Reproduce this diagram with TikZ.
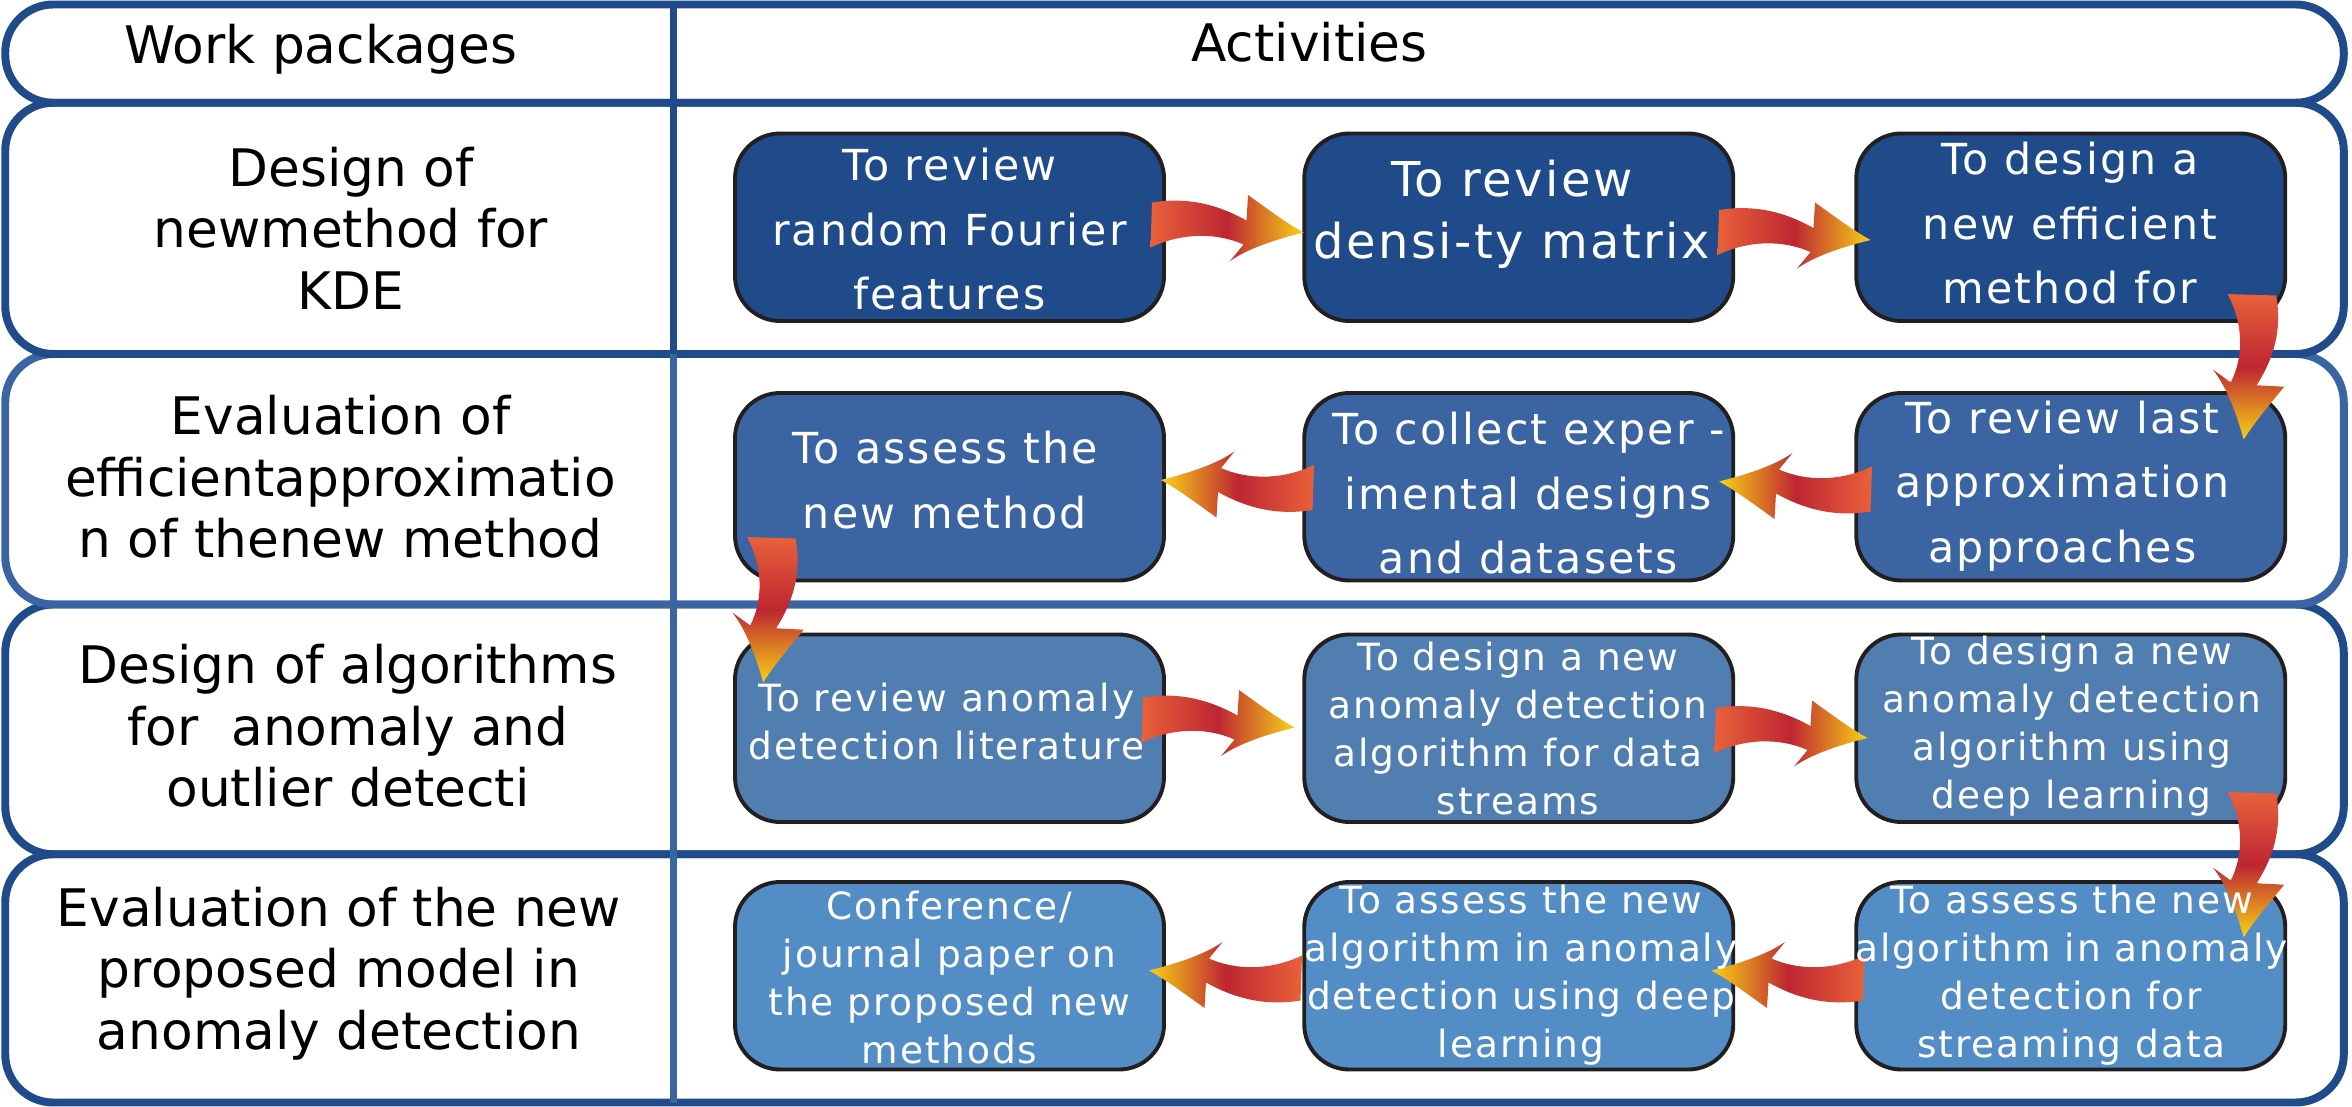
\documentclass[tikz,border=0pt]{standalone}
\usepackage{fontspec}
\setmainfont{DejaVu Sans}
\newfontfamily\boxfont[LetterSpace=5]{DejaVu Sans}
\definecolor{wpdark}{RGB}{31,75,139}
\definecolor{wplight}{RGB}{59,100,163}
\definecolor{wpthree}{RGB}{80,126,176}
\definecolor{wpfour}{RGB}{82,141,198}
\definecolor{wpedge}{RGB}{35,31,32}
\definecolor{arO}{RGB}{233,97,58}
\definecolor{arR}{RGB}{190,38,50}
\definecolor{arY}{RGB}{248,210,22}
\newcommand\wpR[2]{\shade[shift={(#1,#2)}, left color=arO, right color=arY, middle color=arR]
 (0,0) .. controls (25,-4) and (45,2) .. (63,12) -- (64,-5)
 .. controls (78,5) and (90,14) .. (101,20)
 .. controls (85,24) and (65,30) .. (52,39) -- (61,28)
 .. controls (43,20) and (20,20) .. (-1,30) -- cycle;}
\newcommand\wpL[2]{\shade[shift={(#1,#2)}, left color=arY, right color=arO, middle color=arR]
 (0,30) .. controls (-25,34) and (-45,28) .. (-63,18) -- (-64,35)
 .. controls (-78,25) and (-90,16) .. (-101,10)
 .. controls (-85,6) and (-65,0) .. (-52,-9) -- (-61,2)
 .. controls (-43,10) and (-20,10) .. (1,0) -- cycle;}
\newcommand\wpD[2]{\shade[shift={(#1,#2)}, xscale=1.08, yscale=0.95, top color=arO, bottom color=arY, middle color=arR]
 (30,0) .. controls (34,25) and (28,45) .. (18,63) -- (35,64)
 .. controls (25,78) and (16,90) .. (10,101)
 .. controls (6,85) and (0,65) .. (-9,52) -- (2,61)
 .. controls (10,43) and (10,20) .. (0,-1) -- cycle;}
\begin{document}
\begin{tikzpicture}[x=1pt,y=-1pt,
  rowframe/.style={draw=#1, line width=5.3pt, rounded corners=32pt, minimum width=1559pt, inner sep=0pt},
  actbox/.style={draw=wpedge, line width=2.6pt, rounded corners=30pt, minimum width=286pt, minimum height=125pt, inner sep=0pt},
  btxt/.style={text=white, align=center, inner sep=0pt},
  fA/.style={font=\boxfont\fontsize{28.5}{43}\selectfont},
  fB/.style={font=\boxfont\fontsize{32}{41}\selectfont},
  fC/.style={font=\boxfont\fontsize{25}{32}\selectfont},
  lbl/.style={text=black, align=center, inner sep=0pt, font=\fontsize{34.5}{41}\selectfont}]
\useasboundingbox (0,0) rectangle (1568,738);
% rows (bottom to top so upper outlines lie on top)
\node[rowframe=wpdark, minimum height=165.5pt] (r4) at (783,652.25) {};
\node[rowframe=wpdark, minimum height=166.5pt] (r3) at (783,486.25) {};
\node[rowframe=wplight, minimum height=167pt] (r2) at (783,319.5) {};
\node[rowframe=wpdark, minimum height=167.5pt] (r1) at (783,152.25) {};
\node[rowframe=wpdark, minimum height=65.5pt] (r0) at (783,35.75) {};
% divider
\coordinate (dtop) at (449,3);
\coordinate (dmid) at (449,236);
\coordinate (dbot) at (449,735);
\draw[wpdark, line width=5.3pt] (dtop) -- (dmid);
\draw[wplight, line width=5.3pt] (dmid) -- (dbot);
% activity boxes
\node[actbox, fill=wpdark] (a1) at (633,151.5) {};
\node[actbox, fill=wpdark] (b1) at (1012.5,151.5) {};
\node[actbox, fill=wpdark] (c1) at (1380.5,151.5) {};
\node[actbox, fill=wplight] (a2) at (633,324.5) {};
\node[actbox, fill=wplight] (b2) at (1012.5,324.5) {};
\node[actbox, fill=wplight] (c2) at (1380.5,324.5) {};
\node[actbox, fill=wpthree] (a3) at (633,485.5) {};
\node[actbox, fill=wpthree] (b3) at (1012.5,485.5) {};
\node[actbox, fill=wpthree] (c3) at (1380.5,485.5) {};
\node[actbox, fill=wpfour] (a4) at (633,650.5) {};
\node[actbox, fill=wpfour] (b4) at (1012.5,650.5) {};
\node[actbox, fill=wpfour] (c4) at (1380.5,650.5) {};
% arrows
\wpR{768}{135}
\wpR{1146}{140}
\wpD{1485}{197}
\wpL{1247}{311}
\wpL{875}{310}
\wpD{498}{359}
\wpR{762}{465}
\wpR{1144}{472}
\wpD{1485}{529}
\wpL{1242}{637}
\wpL{867}{637}
% header texts
\node[lbl] (h1) at (214,33) {Work packages};
\node[lbl] (h2) at (873,28) {Activities};
% work package labels
\node[lbl] (l1) at (234,152) {Design of\\newmethod for\\KDE};
\node[lbl] (l2) at (227,318) {Evaluation of\\efficientapproximatio\\n of thenew method};
\node[lbl] (l3) at (232,484) {Design of algorithms\\for \ anomaly and\\outlier detecti};
\node[lbl] (l4) at (226,649) {Evaluation of the new\\proposed model in\\anomaly detection};
% box texts
\node[btxt, fA] (ta1) at (633,153) {To review\\random Fourier\\features};
\node[btxt, fB] (tb1) at (1008,143) {To review\\densi-ty matrix};
\node[btxt, fA] (tc1) at (1380,149) {To design a\\new efficient\\method for};
\node[btxt, fA] (ta2) at (630,320) {To assess the\\new method};
\node[btxt, fA] (tb2) at (1019,329) {To collect exper -\\imental designs\\and datasets};
\node[btxt, fA] (tc2) at (1375,324) {To review last\\approximation\\approaches};
\node[btxt, fC] (ta3) at (631,481) {To review anomaly\\detection literature};
\node[btxt, fC] (tb3) at (1012,486) {To design a new\\anomaly detection\\algorithm for data\\streams};
\node[btxt, fC] (tc3) at (1381,484) {To design a new\\anomaly detection\\algorithm using\\deep learning};
\node[btxt, fC] (ta4) at (633,652) {Conference/\\journal paper on\\the proposed new\\methods};
\node[btxt, fC] (tb4) at (1014,650) {To assess the new\\algorithm in anomaly\\detection using deep\\learning};
\node[btxt, fC] (tc4) at (1381,650) {To assess the new\\algorithm in anomaly\\detection for\\streaming data};
\end{tikzpicture}
\end{document}
